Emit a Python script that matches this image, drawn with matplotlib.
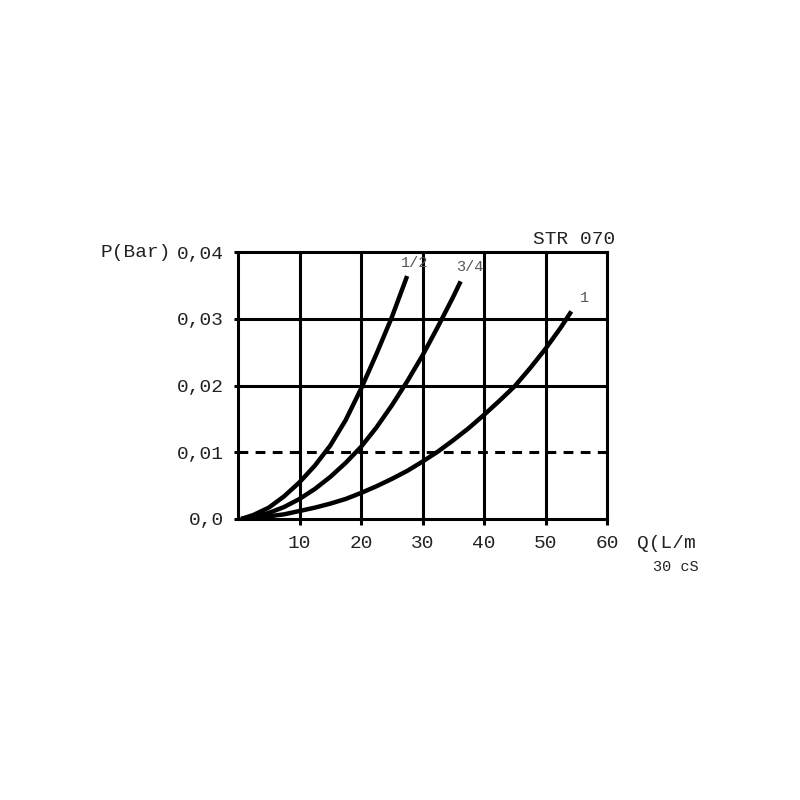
import matplotlib
matplotlib.use("Agg")
import matplotlib.pyplot as plt

plt.rcParams['font.family'] = ['Liberation Mono', 'DejaVu Sans Mono']

# Data
q_half = [0.5, 2.5, 5, 7.5, 10, 12.5, 15, 17.5, 20, 22.5, 25, 27.5]
p_half = [0.0, 0.0006, 0.0017, 0.0034, 0.0055, 0.0080, 0.0110, 0.0148, 0.0195, 0.0247, 0.0302, 0.0364]

q_three_q = [0.5, 2.5, 5, 7.5, 10, 12.5, 15, 17.5, 20, 22.5, 25, 27.5, 30, 32.5, 35, 36.2]
p_three_q = [0.0, 0.0003, 0.0009, 0.0018, 0.0030, 0.0045, 0.0063, 0.0084, 0.0108, 0.0137,
             0.0170, 0.0206, 0.0245, 0.0288, 0.0333, 0.0356]

q_one = [0.5, 2.5, 5, 7.5, 10, 12.5, 15, 17.5, 20, 22.5, 25, 27.5, 30, 32.5, 35, 37.5,
         40, 42.5, 45, 47.5, 50, 52.5, 54.2]
p_one = [0.0, 0.0001, 0.0004, 0.0007, 0.0012, 0.0017, 0.0023, 0.0030, 0.0039, 0.0049,
         0.0060, 0.0072, 0.0086, 0.0101, 0.0118, 0.0136, 0.0156, 0.0177, 0.0199, 0.0226,
         0.0255, 0.0287, 0.0311]

x_ticks = [10, 20, 30, 40, 50, 60]
x_tick_labels = ["10", "20", "30", "40", "50", "60"]
y_ticks = [0.0, 0.01, 0.02, 0.03, 0.04]
y_tick_labels = ["0,0", "0,01", "0,02", "0,03", "0,04"]

W = H = 800
fig = plt.figure(figsize=(8, 8), dpi=100)
ax = fig.add_axes([238 / W, 1 - 519 / H, (607 - 238) / W, (519 - 252) / H])
ax.set_xlim(0, 60)
ax.set_ylim(0, 0.04)

lw_grid = 2.2
for x in x_ticks[:-1]:
    ax.axvline(x, color='black', lw=lw_grid, zorder=1)
for y in [0.02, 0.03]:
    ax.axhline(y, color='black', lw=lw_grid, zorder=1)
ax.axhline(0.01, color='black', lw=lw_grid, linestyle=(0, (3.2, 2.4)), zorder=1)

for q, p in [(q_half, p_half), (q_three_q, p_three_q), (q_one, p_one)]:
    ax.plot(q, p, color='black', lw=3.2, solid_capstyle='butt',
            solid_joinstyle='round', zorder=3)

for s in ax.spines.values():
    s.set_linewidth(lw_grid)

ax.set_xticks(x_ticks)
ax.set_xticklabels(x_tick_labels)
ax.set_yticks(y_ticks)
ax.set_yticklabels(y_tick_labels)
ax.tick_params(axis='x', direction='out', length=4.5, width=lw_grid, pad=7, labelsize=14, colors='#222222')
ax.tick_params(axis='y', direction='out', length=3, width=lw_grid, pad=7, labelsize=14, colors='#222222')
ax.tick_params(color='black')

def ftext(x, y, s, **kw):
    fig.text(x / W, 1 - y / H, s, **kw)

ftext(100, 253, "P(Bar)", fontsize=14, ha='left', va='center', color='#222222')
ftext(637, 544, "Q(L/m", fontsize=14, ha='left', va='center', color='#222222')
ftext(653, 567, "30 cS", fontsize=11, ha='left', va='center', color='#222222')
ftext(615, 240, "STR 070", fontsize=14, ha='right', va='center', color='#222222')

ftext(401, 263, "1/2", fontsize=11, ha='left', va='center', color='#555555')
ftext(456, 267, "3/4", fontsize=11, ha='left', va='center', color='#555555')
ftext(580, 298, "1", fontsize=11, ha='left', va='center', color='#555555')

fig.savefig("out.png", dpi=100)
